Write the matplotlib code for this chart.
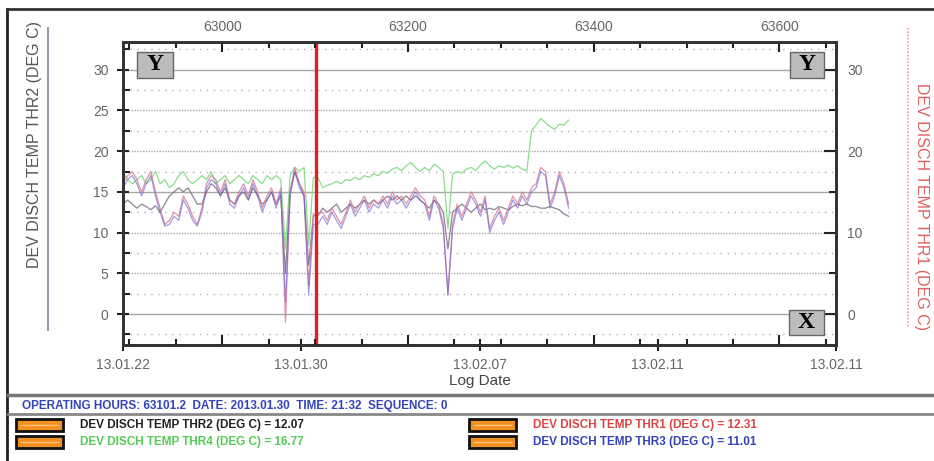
import numpy as np
import matplotlib
matplotlib.use('Agg')
import matplotlib.pyplot as plt
from matplotlib.patches import Rectangle
from matplotlib.lines import Line2D
from matplotlib.ticker import FixedLocator, MultipleLocator

plt.rcParams['font.family'] = ['Liberation Sans', 'DejaVu Sans']

# operating hours, one sample every 5 h
hours = 62893 + 5 * np.arange(97)

thr1 = [16.0, 17.0, 17.5, 16.5, 15.0, 16.5, 17.5, 15.0, 13.0, 11.0,
        11.5, 12.5, 12.0, 14.5, 13.5, 12.0, 11.0, 13.0, 16.0, 17.0,
        16.5, 15.0, 16.5, 14.0, 13.5, 15.0, 16.0, 14.5, 16.5, 15.0,
        13.0, 14.5, 15.5, 13.5, 15.5, -1.0, 15.0, 18.0, 16.0, 15.0,
        3.5, 12.31, 12.31, 12.5, 11.5, 13.0, 12.0, 11.0, 12.5, 14.0,
        12.5, 13.5, 14.5, 13.0, 14.0, 13.5, 14.5, 13.5, 15.0, 14.0,
        14.5, 13.5, 14.5, 15.5, 14.5, 14.0, 12.0, 14.5, 13.5, 11.0,
        2.5, 11.0, 13.5, 12.0, 13.5, 15.0, 14.0, 12.5, 14.5, 10.5,
        12.0, 13.0, 11.5, 13.0, 14.5, 13.5, 15.0, 14.0, 15.5, 16.0,
        18.0, 17.5, 13.5, 15.0, 17.5, 16.0, 13.5]

thr3 = [15.5, 16.5, 17.0, 16.0, 14.5, 16.0, 17.0, 14.5, 12.5, 10.8,
        11.0, 12.0, 11.5, 14.0, 13.0, 11.5, 10.8, 12.5, 15.5, 16.5,
        16.0, 14.5, 16.0, 13.5, 13.0, 14.5, 15.5, 14.0, 16.0, 14.5,
        12.5, 14.0, 15.0, 13.0, 15.0, 1.5, 14.5, 17.5, 15.5, 14.5,
        2.3, 11.01, 11.01, 12.0, 11.0, 12.5, 11.5, 10.5, 12.0, 13.5,
        12.0, 13.0, 14.0, 12.5, 13.5, 13.0, 14.0, 13.0, 14.5, 13.5,
        14.0, 13.0, 14.0, 15.0, 14.0, 13.5, 11.5, 14.0, 13.0, 10.5,
        2.3, 10.5, 13.0, 11.5, 13.0, 14.5, 13.5, 12.0, 14.0, 10.0,
        11.5, 12.5, 11.0, 12.5, 14.0, 13.0, 14.5, 13.5, 15.0, 15.5,
        17.5, 17.0, 13.0, 14.5, 17.0, 15.5, 13.0]

thr2 = [13.5, 14.0, 13.5, 13.0, 13.5, 13.2, 12.8, 13.3, 12.5, 13.5,
        14.5, 15.0, 15.5, 15.0, 15.5, 14.5, 13.5, 13.5, 15.0, 16.0,
        15.5, 14.5, 15.5, 14.0, 13.5, 14.5, 15.0, 14.0, 15.5, 14.5,
        13.5, 14.0, 15.0, 13.5, 14.5, 5.0, 15.0, 17.5, 16.0, 14.5,
        6.0, 12.07, 12.07, 13.0, 12.5, 13.0, 13.5, 12.5, 13.0, 13.5,
        13.0, 13.5, 14.0, 13.5, 14.0, 13.5, 14.0, 14.5, 14.0, 14.5,
        14.0, 14.5, 14.0, 14.5, 14.0, 13.5, 13.0, 14.0, 13.5, 12.5,
        8.0, 12.5, 13.0, 13.5, 13.0, 12.5, 13.0, 13.5, 12.8, 13.0,
        12.8, 13.2, 13.0, 12.8, 13.2, 13.5, 13.3, 13.5, 13.2, 13.2,
        13.0, 13.0, 13.2, 13.0, 12.8, 12.3, 12.0]

thr4 = [17.5, 16.5, 16.0, 16.5, 17.0, 16.0, 16.5, 17.5, 16.0, 16.5,
        15.5, 16.0, 17.0, 17.5, 16.5, 16.0, 16.5, 17.0, 16.5, 17.5,
        16.0, 16.5, 17.0, 16.0, 16.5, 17.0, 16.5, 16.0, 17.0, 16.5,
        16.0, 17.0, 16.5, 17.0, 16.5, 8.0, 17.0, 18.0, 17.5, 18.0,
        8.5, 16.77, 16.77, 15.5, 15.8, 16.0, 16.3, 16.0, 16.5, 16.4,
        16.8, 16.5, 17.0, 16.8, 17.2, 17.0, 17.5, 17.3, 17.8, 18.0,
        17.6, 18.2, 18.6, 18.0, 17.5, 18.0, 17.6, 18.4, 18.0, 17.5,
        10.5, 17.2, 17.5, 17.3, 17.8, 18.0, 17.6, 18.3, 18.8, 18.2,
        17.8, 18.2, 18.0, 18.3, 17.9, 18.2, 17.8, 17.6, 22.5, 23.2,
        24.0, 23.5, 23.0, 22.7, 23.3, 23.2, 23.8]

cursor = 63101.2
date_ticks = [62893, 63085, 63277, 63469, 63661]
date_labels = ['13.01.22', '13.01.30', '13.02.07', '13.02.11', '13.02.11']
hour_ticks = [63000, 63200, 63400, 63600]

W, H = 934, 461


def fx(x):
    return x / W


def fy(y):
    return 1 - y / H


fig = plt.figure(figsize=(W / 100, H / 100), dpi=100)
fig.patch.set_facecolor('white')

ax = fig.add_axes([fx(123), fy(345), (836 - 123) / W, (345 - 42) / H])
ax.set_xlim(62893, 63661)
ax.set_ylim(-3.8, 33.4)

# horizontal grid
for v in [0, 15, 30]:
    ax.axhline(v, color='#a8a8a8', lw=1.0, zorder=0)
for v in [5, 10, 20, 25]:
    ax.axhline(v, color='#a8a8a8', lw=1.0, ls=(0, (1, 1)), zorder=0)
for v in [-2.5, 2.5, 7.5, 12.5, 17.5, 22.5, 27.5, 32.5]:
    ax.axhline(v, color='#b0b0c0', lw=1.0, ls=(0, (1, 4)), zorder=0)

ax.plot(hours, thr4, color='#8ade8a', lw=0.9, zorder=2)
ax.plot(hours, thr2, color='#7a6f7f', lw=0.9, alpha=0.85, zorder=3)
ax.plot(hours, thr1, color='#d8789a', lw=0.9, alpha=0.8, zorder=4)
ax.plot(hours, thr3, color='#6a5ad0', lw=0.9, alpha=0.6, zorder=5)

ax.axvline(cursor, color='#e02020', lw=2.4, zorder=6)

for s in ax.spines.values():
    s.set_linewidth(1.8)
    s.set_color('#333333')

ax.yaxis.set_major_locator(MultipleLocator(5))
ax.yaxis.set_minor_locator(MultipleLocator(2.5))
ax.tick_params(axis='y', which='major', direction='inout', length=9, width=1.5,
               colors='#222222', labelcolor='#666666', labelsize=10, pad=6)
ax.tick_params(axis='y', which='minor', direction='in', length=5, width=1.5,
               colors='#222222')
ax.set_xticks(date_ticks)
ax.set_xticklabels(date_labels)
ax.tick_params(axis='x', which='major', direction='inout', length=9, width=1.5,
               colors='#222222', labelcolor='#666666', labelsize=10, pad=5)
ax.set_xlabel('Log Date', fontsize=11, color='#444444', labelpad=1)

# operating hours on top
axt = ax.twiny()
axt.set_xlim(ax.get_xlim())
axt.set_xticks(hour_ticks)
axt.set_xticklabels([str(h) for h in hour_ticks])
axt.xaxis.set_minor_locator(FixedLocator(np.arange(62900, 63661, 50)))
axt.xaxis.set_ticks_position('both')
axt.xaxis.set_label_position('top')
axt.tick_params(axis='x', which='major', direction='in', length=7, width=1.5,
                colors='#222222', labelcolor='#666666', labelsize=10, pad=5.5,
                labelbottom=False, labeltop=True)
axt.tick_params(axis='x', which='minor', direction='in', length=4, width=1.5,
                colors='#222222')

# right temperature axis
axr = ax.twinx()
axr.set_ylim(ax.get_ylim())
axr.yaxis.set_major_locator(MultipleLocator(10))
axr.yaxis.set_minor_locator(MultipleLocator(5))
axr.tick_params(axis='y', which='major', direction='in', length=9, width=1.5,
                colors='#222222', labelcolor='#666666', labelsize=10, pad=8)
axr.tick_params(axis='y', which='minor', direction='in', length=5, width=1.5,
                colors='#222222')
for a in (axt, axr):
    for s in a.spines.values():
        s.set_linewidth(1.8)
        s.set_color('#333333')

# zoom buttons
for (x0, y0, x1, y1, ch) in [(137, 52, 173, 78, 'Y'), (790, 52, 824, 78, 'Y'),
                             (789, 310, 824, 335, 'X')]:
    fig.add_artist(Rectangle((fx(x0), fy(y1)), (x1 - x0) / W, (y1 - y0) / H,
                             transform=fig.transFigure, facecolor='#bcbcbc',
                             edgecolor='#666666', lw=1.0, zorder=10))
    fig.text(fx((x0 + x1) / 2), fy((y0 + y1) / 2), ch, ha='center', va='center',
             fontsize=17, fontweight='bold', family='Liberation Serif',
             color='black', zorder=11)

# axis titles with their indicator lines
fig.text(fx(35), fy(145), 'DEV DISCH TEMP THR2 (DEG C)', rotation=90,
         ha='center', va='center', fontsize=11.5, color='#555555')
fig.add_artist(Line2D([fx(48), fx(48)], [fy(28), fy(330)], color='#a098a8', lw=1.5))
fig.text(fx(922), fy(207), 'DEV DISCH TEMP THR1 (DEG C)', rotation=270,
         ha='center', va='center', fontsize=11.5, color='#e06060')
fig.add_artist(Line2D([fx(908), fx(908)], [fy(28), fy(328)], color='#e8a0a8',
                      lw=1.2, ls=(0, (1, 1))))

# outer frame
fig.add_artist(Line2D([fx(7), fx(7)], [fy(9), 0], color='#222222', lw=2))
fig.add_artist(Line2D([fx(7), 1], [fy(9), fy(9)], color='#333333', lw=2))

# status panel
fig.add_artist(Line2D([fx(8), 1], [fy(395), fy(395)], color='#777777', lw=2.5))
fig.add_artist(Line2D([fx(8), 1], [fy(414), fy(414)], color='#888888', lw=2))
fig.text(fx(22), fy(406), 'OPERATING HOURS: 63101.2  DATE: 2013.01.30  TIME: 21:32  SEQUENCE: 0',
         ha='left', va='center', fontsize=8.5, fontweight='bold', color='#3344bb')

series = [('THR2', thr2, '#222222', 16, 425), ('THR4', thr4, '#55cc55', 16, 442),
          ('THR1', thr1, '#dd4444', 469, 425), ('THR3', thr3, '#3344bb', 469, 442)]
for name, vals, col, sx, sy in series:
    val = np.interp(cursor, hours, vals)
    fig.add_artist(Rectangle((fx(sx), fy(sy + 6)), 47 / W, 12 / H,
                             transform=fig.transFigure, facecolor='#f09020',
                             edgecolor='#111111', lw=2.0))
    fig.add_artist(Line2D([fx(sx + 5), fx(sx + 42)], [fy(sy), fy(sy)],
                          color='#ffc070', lw=1.0))
    fig.text(fx(sx + 64), fy(sy), f'DEV DISCH TEMP {name} (DEG C) = {val:.2f}',
             ha='left', va='center', fontsize=8.5, fontweight='bold', color=col)

fig.savefig('out.png', dpi=100)
